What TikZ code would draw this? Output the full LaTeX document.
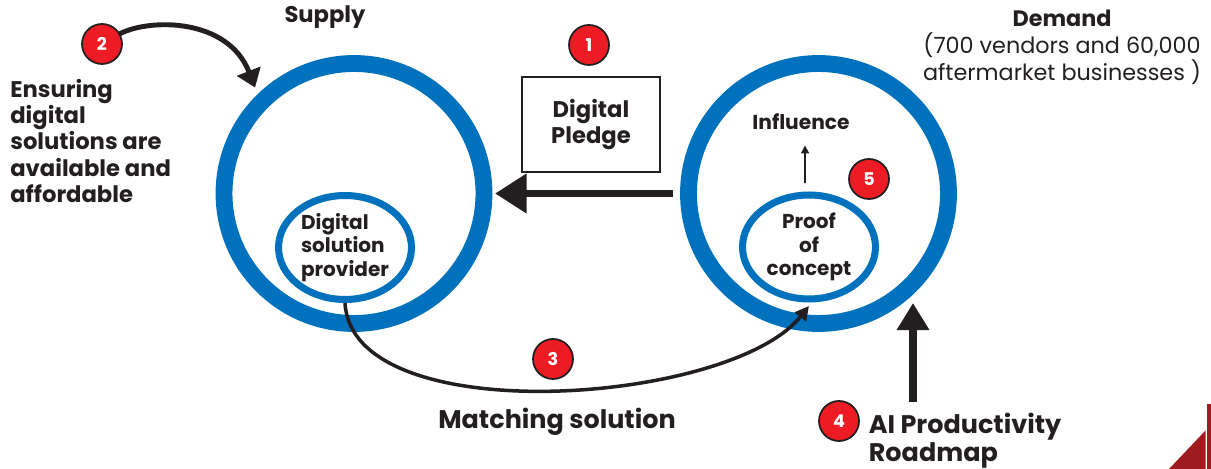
\documentclass[tikz,border=0pt]{standalone}
\usepackage{fontspec}
\setmainfont{Poppins}
\usetikzlibrary{arrows.meta,shapes.geometric}
\definecolor{ringblue}{RGB}{0,113,188}
\definecolor{ink}{RGB}{35,31,32}
\definecolor{badgered}{RGB}{237,28,36}
\definecolor{cornerred}{RGB}{158,27,32}

\begin{document}
\begin{tikzpicture}[x=0.02cm, y=-0.02cm, ink, text=ink,
      every node/.append style={outer sep=0pt},
      ring/.style={circle, draw=ringblue, line width=9.6pt, minimum size=5.2cm, inner sep=0pt},
      core/.style={ellipse, draw=ringblue, line width=4pt, minimum width=2.66cm, minimum height=2.08cm, inner sep=0pt,
        font=\fontsize{11.4}{13.4}\selectfont\bfseries},
      badge/.style={circle, fill=badgered, draw=ink, line width=1pt, minimum size=0.8cm, inner sep=0pt,
        text=white, font=\fontsize{10}{12}\selectfont\bfseries}]
    \tikzstyle{label} = [font=\fontsize{12.9}{15}\selectfont\bfseries]
    \tikzstyle{biglabel} = [font=\fontsize{14.5}{16}\selectfont\bfseries]
    \tikzstyle{bigarrow} = [line width=4.5pt, -{Triangle[length=18pt,width=21.6pt]}]
    \tikzstyle{uparrow} = [line width=4pt, -{Triangle[length=15.4pt,width=17.6pt]}]
    \tikzstyle{curvearrow} = [line width=2.8pt, -{Triangle[length=10pt,width=14pt]}]
    \tikzstyle{matcharrow} = [line width=2pt, -{Triangle[length=8pt,width=8pt]}]
    \tikzstyle{thinarrow} = [line width=1.1pt, -{Triangle[length=4.5pt,width=4.5pt]}]
    \useasboundingbox (0,0) rectangle (1211,469);
    \node[ring] (supply) at (354,193.5) {};
    \node[ring] (demand) at (818.5,193.5) {};
    \node[core, align=left] (provider) at (345,247.5) {Digital\\solution\\provider};
    \node[core, align=center] (poc) at (809,247) {Proof\\of\\concept};
    \node[draw=ink, line width=1.2pt, minimum width=2.76cm, minimum height=1.9cm, align=center,
      font=\fontsize{12.9}{14.8}\selectfont\bfseries] (pledge) at (591,124.5) {Digital\\Pledge};
    \node[label] (supplylbl) at (325,17) {Supply};
    \node[align=center, font=\fontsize{12.7}{15.4}\selectfont] (demandlbl) at (1062,47)
      {\textbf{Demand}\\(700 vendors and 60,000\\aftermarket businesses )};
    \node[label, anchor=west, align=left] (ensure) at (4.5,141)
      {Ensuring\\digital\\solutions are\\available and\\affordable};
    \node[font=\fontsize{11.5}{13}\selectfont\bfseries] (influence) at (801,122) {Influence};
    \node[biglabel] (match) at (557,422) {Matching solution};
    \node[biglabel, anchor=west, align=left] (roadmap) at (863,441) {AI Productivity\\Roadmap};
    \node[badge] (one) at (589,45) {1};
    \node[badge] (two) at (102,44) {2};
    \node[badge] (three) at (553,359) {3};
    \node[badge] (four) at (839,421) {4};
    \node[badge] (five) at (869,179) {5};
    \coordinate (roadfoot) at (913,402);
    \coordinate (roadtip) at (913,303);
    \draw[bigarrow] ([xshift=-8.8pt]demand.west) -- ([xshift=6.3pt]supply.east);
    \draw[uparrow] (roadfoot) -- (roadtip);
    \draw[curvearrow] (two.30) .. controls (150,18) and (228,18) .. ([xshift=-4pt,yshift=8pt]supply.135);
    \draw[matcharrow] ([yshift=-2pt]provider.south) .. controls (352,432) and (730,405) .. ([yshift=-4pt]poc.south);
    \draw[thinarrow] ([xshift=-2.3pt,yshift=6.8pt]poc.north) -- ([xshift=2.3pt,yshift=-5.5pt]influence.south);
    \fill[cornerred] (1169,469) -- (1205.5,430.5) -- (1205.5,469) -- cycle;
    \fill[cornerred] (1207,404) rectangle (1211,469);
\end{tikzpicture}
\end{document}
